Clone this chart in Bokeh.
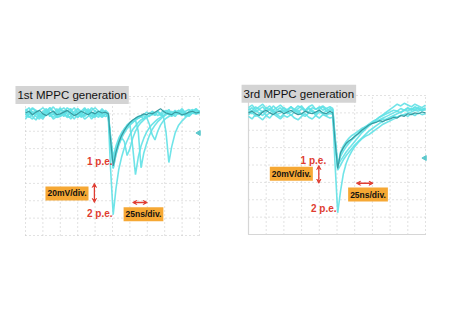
import math
from bokeh.plotting import figure
from bokeh.layouts import row
from bokeh.models import Label, Arrow, VeeHead
from bokeh.embed import file_html
from bokeh.resources import INLINE

# ---------------- data (time in ns, amplitude in mV) ----------------
T_LEFT = list(range(0, 120, 5)) + [119, 122] + list(range(126, 211, 4)) + list(range(215, 251, 5))
T_RIGHT = list(range(0, 120, 5)) + [119, 122] + list(range(126, 151, 4)) + list(range(155, 251, 5))

L_DARK = [1, 3, -1, 2, 4, 0, -2, 1, 3, -1, 0, 2, 4, 1, -2, 0, 3, 1, -1, 2, 0, 3, 1, 2,
          0, -28,
          -60, -44, -33, -25, -19, -14, -10, -7, -5, -3, -2, 0, -1, 1, 0, 2, 4, 6, 3, 1, 0, -1, 2, 1, -1, 0, 2, 3, 1, 2]
L_TRACES = [
    [-4, 0, 6, 3, -3, -6, 1, 7, 3, -4, -1, 4, 0, -6, -1, 6, 3, -3, 1, 7, 3, -1, -4, 0,
     -3, -35,
     -63, -47, -36, -28, -22, -17, -13, -10, -7, -5, -3, -6, -1, -3, 2, -2, 3, 0, -3, 2, 5, 0, -3, 2, 6, 1, -2, 3, 6, 2],
    [3, -3, -6, 0, 4, 7, 3, -1, -4, 1, 6, 1, -3, 3, 7, 1, -4, -1, 4, 0, -3, 1, 6, 1,
     -4, -60,
     -116, -86, -64, -50, -39, -31, -24, -18, -14, -10, -7, -5, -4, -2, -1, 0, 3, -2, 1, 4, 1, -3, 0, 4, 1, -2, 3, 5, 0, 1],
    [6, 1, -3, -7, -1, 3, 6, 0, -6, -3, 4, 7, 3, -1, 1, -4, -1, 6, 3, -3, 4, -1, 0, 4,
     1, -25,
     -55, -40, -30, -23, -18, -14, -12, -38, -70, -50, -37, -28, -21, -16, -12, -9, -6, -4, -2, 0, 3, 0, 4, 1, -2, 3, 5, 1, 0, 4],
    [-1, 3, 7, 4, 0, -4, -1, 4, 8, 3, -3, 0, 4, -1, -6, 0, 3, 7, 1, -3, -4, 1, 4, 0,
     -1, -32,
     -58, -43, -32, -25, -19, -15, -11, -9, -7, -20, -62, -45, -34, -25, -18, -13, -9, -6, -3, -1, 1, -2, 3, 0, 4, 1, -3, 1, 4, 0],
    [0, -4, -1, 4, 1, -3, 4, 1, -1, 3, 7, 0, -4, -3, 3, 6, 0, -6, -3, 4, 7, 3, -1, -3,
     -2, -30,
     -57, -42, -31, -24, -18, -13, -10, -8, -5, -3, -2, -1, 2, 0, 3, 1, -2, 0, -2, -22, -56, -38, -22, -13, -8, -4, -1, 1, 4, 2],
    [-6, -1, 3, 0, -4, 1, 4, -3, 0, 6, 1, -3, 3, 6, -1, -4, 1, 4, 0, -6, -1, 3, -3, 1,
     -2, -24,
     -50, -37, -28, -22, -17, -13, -10, -8, -6, -5, -3, -2, -4, -12, -24, -30, -20, -13, -8, -5, -3, -1, 2, 0, 3, -1, 1, 4, 0, 3],
    [3, 7, 1, -3, -6, 0, 3, 7, 1, -4, -3, 1, 7, 4, -1, 3, -3, 0, 6, 1, -1, -4, 3, 0,
     -1, -33,
     -62, -46, -35, -27, -32, -48, -40, -28, -20, -14, -10, -7, -4, -2, 0, -1, 3, 0, 4, 1, -1, 3, 0, 4, 1, -3, 0, 3, 5, 1],
]

R_DARK = [0, 2, -1, -3, 1, 3, 0, -2, 1, 2, -1, 1, 3, 0, -2, -1, 2, 0, -1, 1, 3, 0, -1, 2,
          0, -30,
          -64, -46, -40, -35, -32, -30, -27, -24, -20, -17, -14, -12, -11, -9, -10, -8, -7, -5, -6, -3, -4, -1, -2, 0, -1, 1, 0]
R_TRACES = [
    [5, 2, 7, 4, 1, 6, 3, 8, 4, 2, 6, 3, 7, 2, 5, 8, 3, 1, 6, 4, 7, 3, 5, 2,
     4, -28,
     -66, -60, -54, -49, -45, -41, -37, -33, -29, -25, -21, -18, -15, -12, -10, -7, -5, -3, -1, 1, 3, 2, 5, 3, 6, 4, 5],
    [-4, -7, -2, -5, -8, -3, -6, -1, -4, -7, -3, -5, -2, -6, -8, -4, -1, -5, -7, -3, -6, -2, -4, -6,
     -5, -33,
     -62, -45, -38, -33, -29, -26, -24, -21, -18, -16, -14, -12, -10, -9, -7, -8, -6, -4, -5, -3, -2, -4, -1, -3, 0, -2, -1],
    [2, -1, 3, 0, -3, 1, 4, 2, -2, 0, 3, -1, 1, 4, 0, -2, 2, 5, 1, -1, 3, 0, 2, -1,
     0, -55,
     -115, -90, -70, -58, -50, -44, -39, -34, -30, -27, -25, -22, -19, -16, -13, -11, -9, -7, -5, -3, -2, 0, 1, 3, 2, 4, 3],
    [6, 9, 4, 7, 10, 5, 8, 3, 6, 9, 5, 2, 7, 4, 8, 6, 3, 7, 9, 4, 6, 8, 5, 7,
     5, -25,
     -60, -55, -50, -45, -41, -37, -33, -28, -23, -19, -15, -11, -8, -5, -2, 1, 4, 7, 10, 8, 11, 9, 7, 10, 8, 6, 9],
    [-2, 1, -4, -1, 2, -3, 0, 3, -2, -5, -1, 2, -3, 1, 3, -2, -4, 0, 2, -3, 1, -1, -3, 0,
     -2, -30,
     -58, -50, -44, -39, -35, -31, -28, -24, -21, -18, -15, -12, -10, -8, -6, -4, -2, 0, 2, 0, 3, 5, 3, 6, 4, 2, 5],
    [3, 6, 1, 4, 7, 2, 5, 0, 3, 6, 1, 4, 7, 3, 0, 5, 2, 6, 3, 0, 4, 7, 2, 5,
     3, -27,
     -64, -48, -40, -36, -33, -30, -27, -23, -19, -16, -13, -10, -8, -5, -3, -1, 1, 3, 2, 5, 3, 6, 4, 7, 5, 3, 6],
]

X_TICKS = [0, 25, 50, 75, 100, 125, 150, 175, 200, 225, 250]
Y_TICKS = [-140, -120, -100, -80, -60, -40, -20, 0, 20]
TITLES = ["1st MPPC generation", "3rd MPPC generation"]
TRIGGER_LEVEL = [-22, -52]

LIGHT = "#60e1e6"
DARK = "#3a9aa0"
RED = "#e03c31"
ORANGE = "#f6a834"
FONT = "Liberation Sans"
FIG_H = 250


def make_panel(width, grid_left, grid_top, grid_w, grid_h, t, dark, traces, title, trig,
               solid_frame, labels):
    x0, x1 = X_TICKS[0], X_TICKS[-1]
    y0, y1 = Y_TICKS[0], Y_TICKS[-1]
    kx = grid_w / (x1 - x0)
    ky = grid_h / (y1 - y0)
    x_range = (x0 - grid_left / kx, x0 + (width - grid_left) / kx)
    y_range = (y1 - (FIG_H - grid_top) / ky, y1 + grid_top / ky)
    p = figure(width=width, height=FIG_H, x_range=x_range, y_range=y_range,
               x_axis_location=None, y_axis_location=None, toolbar_location=None,
               output_backend="svg", title=None, min_border=0)
    p.xgrid.visible = False
    p.ygrid.visible = False
    p.outline_line_color = None
    p.background_fill_color = "white"
    p.border_fill_color = "white"
    # oscilloscope graticule (dotted), built from the tick lists
    p.multi_line([[x, x] for x in X_TICKS], [[y0, y1] for _ in X_TICKS],
                 line_color="#c4c4c4", line_dash="1 3", line_width=1)
    p.multi_line([[x0, x1] for _ in Y_TICKS], [[y, y] for y in Y_TICKS],
                 line_color="#c4c4c4", line_dash="1 3", line_width=1)
    if solid_frame:
        p.line([x0, x0, x1], [y1, y0, y0], line_color="#d6d6d6", line_width=1.2)
    for tr in traces:
        p.line(t, tr, line_color=LIGHT, line_width=1.6, line_alpha=0.9)
    p.line(t, dark, line_color=DARK, line_width=1.2)
    p.scatter([x1 - 1], [trig], marker="triangle", angle=math.pi / 2, size=5,
              color="#5cc8cc")
    (tx, ty), (pe1x, pe1y), (pe2x, pe2y), (mvx, mvy), (nsx, nsy), (vx, vy0, vy1), (hy, hx0, hx1) = labels
    p.add_layout(Label(x=tx, y=ty, text=title, text_font=FONT, text_font_size="11.5px",
                       text_color="#111111", text_align="left", text_baseline="middle",
                       background_fill_color="#d4d4d4", padding=(2, 3)))
    for (x, y, s) in ((pe1x, pe1y, "1 p.e."), (pe2x, pe2y, "2 p.e.")):
        p.add_layout(Label(x=x, y=y, text=s, text_font=FONT, text_font_size="10px",
                           text_font_style="bold", text_color=RED,
                           text_align="right", text_baseline="middle"))
    for (x, y, s) in ((mvx, mvy, "20mV/div."), (nsx, nsy, "25ns/div.")):
        p.add_layout(Label(x=x, y=y, text=s, text_font=FONT, text_font_size="8.5px",
                           text_font_style="bold", text_color="#111111",
                           text_align="center", text_baseline="middle",
                           background_fill_color=ORANGE, padding=(2, 2)))
    for (xa, ya, xb, yb) in ((vx, vy0, vx, vy1), (hx0, hy, hx1, hy)):
        p.add_layout(Arrow(x_start=xa, y_start=ya, x_end=xb, y_end=yb,
                           start=VeeHead(size=4, line_color=RED, fill_color=RED, line_width=1),
                           end=VeeHead(size=4, line_color=RED, fill_color=RED, line_width=1),
                           line_color=RED, line_width=1.3))
    return p


p1 = make_panel(226, 25, 96, 174, 139, T_LEFT, L_DARK, L_TRACES, TITLES[0], TRIGGER_LEVEL[0], False,
                ((-14.4, 21.7), (125, -54.8), (125, -115), (59.6, -91.6), (169.5, -115.6),
                 (99, -80, -102), (-102, 154, 175)))
p2 = make_panel(215, 22, 95, 177, 139, T_RIGHT, R_DARK, R_TRACES, TITLES[1], TRIGGER_LEVEL[1], True,
                ((-9.8, 22), (109.7, -55.2), (124.3, -110), (60.5, -70), (168.8, -94),
                 (99.3, -60.6, -81), (-81, 152.5, 176)))

layout = row(p1, p2)
open("out.html", "w").write(file_html(layout, INLINE))
